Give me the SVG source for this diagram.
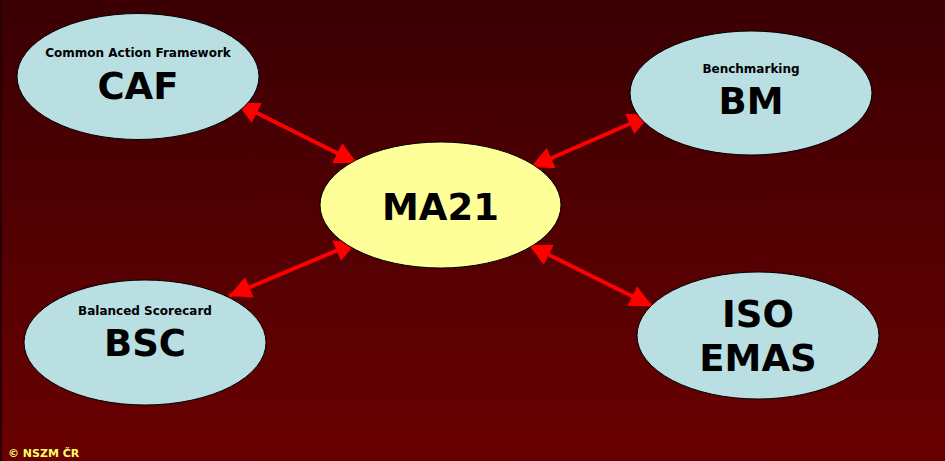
<svg xmlns="http://www.w3.org/2000/svg" width="945" height="461" viewBox="0 0 945 461">
<defs>
<linearGradient id="bg" x1="0" y1="0" x2="0" y2="1">
<stop offset="0" stop-color="#3a0004"/>
<stop offset="1" stop-color="#690000"/>
</linearGradient>
<marker id="ah" viewBox="0 0 10 10" refX="10" refY="5" markerWidth="6" markerHeight="5.5" orient="auto-start-reverse" markerUnits="strokeWidth">
<path d="M0,0 L10,5 L0,10 Z" fill="#ff0000"/>
</marker>
<style>
.node{fill:#b9dfe3;stroke:#000;stroke-width:1}
.center{fill:#ffff99;stroke:#000;stroke-width:1}
.sub{font-family:"DejaVu Sans",Verdana,sans-serif;font-weight:bold;font-size:12px;fill:#000;text-anchor:middle}
.big{font-family:"DejaVu Sans",Verdana,sans-serif;font-weight:bold;font-size:37px;fill:#000;text-anchor:middle}
.conn{stroke:#ff0000;stroke-width:4;fill:none;marker-start:url(#ah);marker-end:url(#ah)}
</style>
</defs>
<rect x="0" y="0" width="945" height="461" fill="url(#bg)"/>
<rect x="0" y="0" width="2" height="461" fill="#2a0002"/>
<g id="connectors">
<line class="conn" x1="237" y1="103" x2="357" y2="163"/>
<line class="conn" x1="650" y1="115" x2="531" y2="167"/>
<line class="conn" x1="229" y1="296" x2="357" y2="242"/>
<line class="conn" x1="652" y1="306" x2="529" y2="245"/>
</g>
<g id="caf">
<ellipse class="node" cx="138" cy="76.5" rx="121" ry="63"/>
<text class="sub" x="138" y="57">Common Action Framework</text>
<text class="big" x="138" y="99">CAF</text>
</g>
<g id="bm">
<ellipse class="node" cx="751" cy="93" rx="121" ry="62"/>
<text class="sub" x="751" y="73">Benchmarking</text>
<text class="big" x="751" y="114">BM</text>
</g>
<g id="ma21">
<ellipse class="center" cx="440.5" cy="205" rx="120.5" ry="63"/>
<text class="big" x="440.5" y="220">MA21</text>
</g>
<g id="bsc">
<ellipse class="node" cx="145" cy="342.5" rx="121" ry="62.5"/>
<text class="sub" x="145" y="315">Balanced Scorecard</text>
<text class="big" x="145" y="356">BSC</text>
</g>
<g id="iso">
<ellipse class="node" cx="758" cy="335.5" rx="121" ry="63.5"/>
<text class="big" x="758" y="327">ISO</text>
<text class="big" x="758" y="371">EMAS</text>
</g>
<text x="8" y="457" font-family="'DejaVu Sans',Verdana,sans-serif" font-weight="bold" font-size="11" fill="#ffff66">© NSZM ČR</text>
</svg>
